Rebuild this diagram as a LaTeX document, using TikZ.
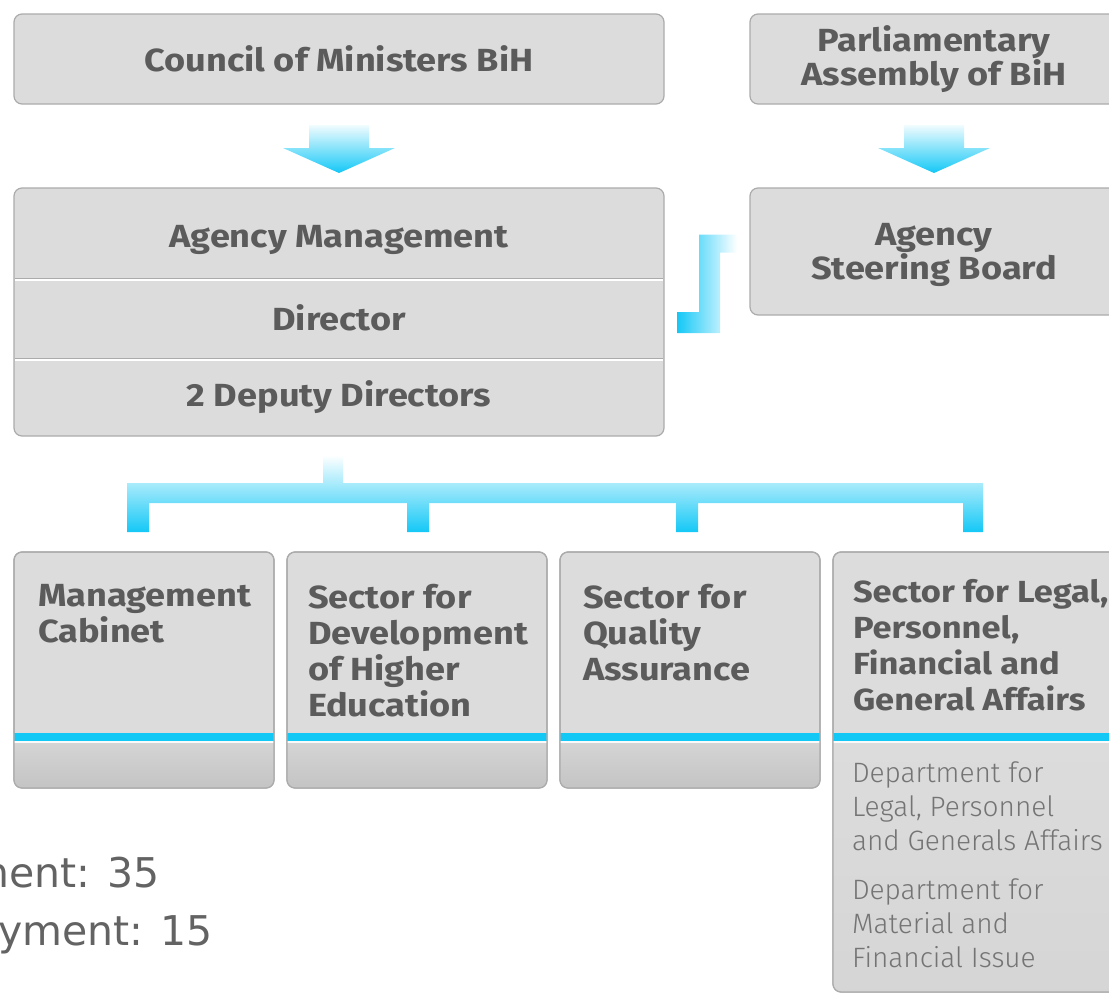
\documentclass[tikz,border=0pt]{standalone}
\usepackage{fontspec}
\setmainfont{Fira Sans}[FakeStretch=1.13]
\newfontfamily\lightfont{Fira Sans Light}
\newfontfamily\notefont{DejaVu Sans}
\usetikzlibrary{positioning, calc}

\definecolor{flow}{HTML}{14C8F6}
\definecolor{panel}{HTML}{DCDCDC}
\definecolor{rim}{HTML}{ABABAB}
\definecolor{ink}{HTML}{5B5B5B}
\definecolor{footA}{HTML}{D4D4D4}
\definecolor{footB}{HTML}{C4C4C4}

% block arrow pointing down from one box to the next
\newcommand{\feedarrow}[2]{%
  \shade[top color=flow!6, bottom color=flow]
  ($(#1.south)+(-30,21)$) -- ($(#1.south)+(30,21)$) -- ($(#2.north)+(30,-40)$)
  -- ($(#2.north)+(56,-40)$) -- ($(#2.north)+(0,-15)$) -- ($(#2.north)+(-56,-40)$)
  -- ($(#2.north)+(-30,-40)$) -- cycle;}

% cyan band and lower part of a sector box
\newcommand{\sectortrim}[3]{%
  \begin{scope}
    \clip[rounded corners=8pt] (#1.south west) rectangle (#1.north east);
    \shade[top color=#2, bottom color=#3] ($(#1.north west)+(0,191)$) rectangle (#1.south east);
    \fill[flow] ($(#1.north west)+(0,181)$) rectangle ($(#1.north east)+(0,189)$);
    \fill[white!85!panel] ($(#1.north west)+(0,189)$) rectangle ($(#1.north east)+(0,191)$);
  \end{scope}
  \draw[rim, line width=1.2pt, rounded corners=8pt] (#1.south west) rectangle (#1.north east);}

\begin{document}
\begin{tikzpicture}[x=1pt, y=-1pt, outer sep=0pt, inner sep=0pt,
    every node/.style={text=ink, font=\bfseries\fontsize{32}{34}\selectfont}, align=center]

  \tikzstyle{box}=[draw=rim, fill=panel, rounded corners=8pt, line width=1.2pt]
  \tikzstyle{row}=[minimum width=650pt]
  \tikzstyle{sector}=[box, minimum width=260pt, minimum height=236pt, anchor=north west]
  \tikzstyle{title}=[align=left, font=\bfseries\fontsize{32}{36}\selectfont]
  \tikzstyle{dept}=[align=left, text=ink!85, font=\lightfont\fontsize{28}{34}\selectfont]
  \tikzstyle{note}=[text=ink!95, font=\notefont\fontsize{41}{48}\selectfont]

  \useasboundingbox (0,0) rectangle (1109,996);
  \clip (0,0) rectangle (1109,996);

  % upper boxes
  \node[box, minimum width=650pt, minimum height=90pt] (COUNCIL) at (339,59) {Council of Ministers BiH};
  \node[box, minimum width=650pt, minimum height=248pt] (MGMT) [below=84pt of COUNCIL] {};
  \node[row, minimum height=90pt, text height=29pt, text depth=0pt] (HEAD) [below=0pt of MGMT.north] {Agency Management};
  \node[row, minimum height=80pt] (DIR) [below=0pt of HEAD] {Director};
  \node[row, minimum height=78pt] (DEP) [below=0pt of DIR] {2 Deputy Directors};
  \node[box, minimum width=368pt, minimum height=90pt] (PARL) at (934,59) {Parliamentary\\Assembly of BiH};
  \node[box, minimum width=368pt, minimum height=127pt, text depth=0pt] (BOARD) [below=84pt of PARL] {Agency\\Steering Board};

  \draw[rim, line width=1pt] ($(HEAD.south west)+(1,0)$) -- ($(HEAD.south east)+(-1,0)$);
  \draw[white, line width=1.5pt] ($(HEAD.south west)+(1,2)$) -- ($(HEAD.south east)+(-1,2)$);
  \draw[rim, line width=1pt] ($(DIR.south west)+(1,0)$) -- ($(DIR.south east)+(-1,0)$);
  \draw[white, line width=1.5pt] ($(DIR.south west)+(1,2)$) -- ($(DIR.south east)+(-1,2)$);

  % sectors
  \node[sector] (CABINET) at (14,552) {};
  \node[sector, right=13pt of CABINET.north east, anchor=north west] (DEVEL) {};
  \node[sector, right=13pt of DEVEL.north east, anchor=north west] (QUALITY) {};
  \node[sector, minimum width=290pt, minimum height=440pt, right=13pt of QUALITY.north east,
    anchor=north west] (LEGAL) {};

  \sectortrim{CABINET}{footA}{footB}
  \sectortrim{DEVEL}{footA}{footB}
  \sectortrim{QUALITY}{footA}{footB}
  \sectortrim{LEGAL}{panel}{panel!97!black}

  \node[title, below right=32pt and 24pt of CABINET.north west] (CABT) {Management\\Cabinet};
  \node[title, below right=32pt and 21pt of DEVEL.north west] (DEVT) {Sector for\\Development\\of Higher\\Education};
  \node[title, below right=32pt and 23pt of QUALITY.north west] (QUAT) {Sector for\\Quality\\Assurance};
  \node[title, font=\bfseries\fontsize{30.5}{36}\selectfont, below right=27pt and 20pt of LEGAL.north west] (LEGT)
    {Sector for Legal,\\Personnel,\\Financial and\\General Affairs};
  \node[dept, below right=210pt and 19pt of LEGAL.north west] (DEPT1) {Department for\\Legal, Personnel\\and Generals Affairs};
  \node[dept, below=28pt of DEPT1.south west, anchor=north west] (DEPT2) {Department for\\Material and\\Financial Issue};

  % connectors
  \feedarrow{COUNCIL}{MGMT}
  \feedarrow{PARL}{BOARD}

  \coordinate (s1) at ($(MGMT.east)+(13,0)$);
  \coordinate (s2) at ($(BOARD.west)+(-13,-17)$);
  \shade[left color=flow, right color=white] (s1) -- ++(22,0) |- (s2) -- ++(0,18)
    -| ($(s1)+(43,21)$) -- ++(-43,0) -- cycle;

  \coordinate (HUB) at ($(MGMT.south)+(-6,19)$);
  \coordinate (tap1) at ($(CABINET.north)+(-6,-20)$);
  \coordinate (tap2) at ($(DEVEL.north)+(1,-20)$);
  \coordinate (tap3) at ($(QUALITY.north)+(-3,-20)$);
  \coordinate (tap4) at ($(LEGAL.north)+(-5,-20)$);
  \shade[top color=white, bottom color=flow]
    ($(HUB)+(-10,0)$) rectangle ($(HUB)+(10,38)$)
    ($(tap1)+(-11,-49)$) rectangle ($(tap4)+(10,-29)$)
    ($(tap1)+(-11,-39)$) rectangle ($(tap1)+(11,0)$)
    ($(tap2)+(-11,-39)$) rectangle ($(tap2)+(11,0)$)
    ($(tap3)+(-11,-39)$) rectangle ($(tap3)+(11,0)$)
    ($(tap4)+(-10,-39)$) rectangle ($(tap4)+(10,0)$);

  % staff numbers
  \node[note, anchor=base east] (NOTE1) at (160,887) {ment: 35};
  \node[note, anchor=base east] (NOTE2) at (213,945) {yment: 15};
\end{tikzpicture}
\end{document}
